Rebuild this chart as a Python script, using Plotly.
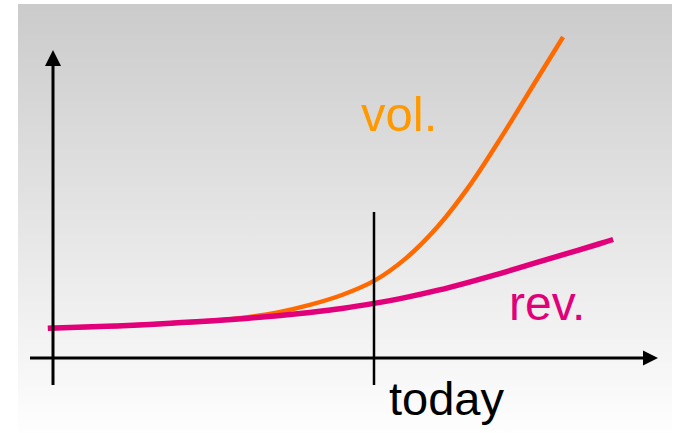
import plotly.graph_objects as go

# ---- data (time units: 0 = y-axis, 10 = today; value units above the x-axis) ----
rev_t = [-0.16, 1, 2, 3, 4, 5, 6, 7, 8, 9, 10, 11, 12, 13, 14, 15, 16, 17, 17.45]
rev_v = [0.99, 1.03, 1.07, 1.12, 1.18, 1.24, 1.32, 1.41, 1.52, 1.65, 1.82, 2.02, 2.26, 2.54, 2.84,
         3.16, 3.48, 3.80, 3.95]

vol_t = [-0.16, 1, 2, 3, 4, 5, 6, 7, 8, 9, 10, 11, 12, 13, 14, 15, 15.89]
vol_v = [0.99, 1.03, 1.07, 1.12, 1.18, 1.24, 1.35, 1.52, 1.77, 2.10, 2.57, 3.33, 4.40, 5.78, 7.42,
         9.16, 10.70]

today_t = 10.0
labels = {"vol": "vol.", "rev": "rev.", "today": "today"}

# ---- layout constants ----
W, H = 677, 433
PX_PER_T = 32.1
PX_PER_V = 30.0
X0_PX, Y0_PX = 53, 358
x_range = [-X0_PX / PX_PER_T, (W - X0_PX) / PX_PER_T]
y_range = [(Y0_PX - H) / PX_PER_V, Y0_PX / PX_PER_V]


def tx(px):
    return (px - X0_PX) / PX_PER_T


def vy(py):
    return (Y0_PX - py) / PX_PER_V


ORANGE = "#ff6a00"
ORANGE_TXT = "#ff9900"
MAGENTA = "#e2007a"

fig = go.Figure()

# gradient background panel
bx0, bx1, by0, by1 = tx(18), tx(672), vy(433), vy(4)
fig.add_trace(go.Scatter(
    x=[bx0, bx1, bx1, bx0, bx0], y=[by0, by0, by1, by1, by0],
    mode="lines", line=dict(width=0), fill="toself",
    fillgradient=dict(type="vertical", colorscale=[[0, "#fefefe"], [1, "#cbcbcb"]],
                      start=by0, stop=by1),
    hoverinfo="skip", showlegend=False))

fig.add_trace(go.Scatter(x=vol_t, y=vol_v, mode="lines",
                         line=dict(color=ORANGE, width=4.5, shape="spline", smoothing=1.0),
                         hoverinfo="skip", showlegend=False))
fig.add_trace(go.Scatter(x=rev_t, y=rev_v, mode="lines",
                         line=dict(color=MAGENTA, width=5.5, shape="spline", smoothing=1.0),
                         hoverinfo="skip", showlegend=False))

shapes = []
# y axis
shapes.append(dict(type="line", x0=0, x1=0, y0=vy(385), y1=vy(64), line=dict(color="black", width=3)))
shapes.append(dict(type="path",
                   path=f"M {tx(45)} {vy(66)} L {tx(61)} {vy(66)} L {tx(53)} {vy(50)} Z",
                   fillcolor="black", line=dict(width=0)))
# x axis
shapes.append(dict(type="line", x0=tx(30), x1=tx(645), y0=0, y1=0, line=dict(color="black", width=3)))
shapes.append(dict(type="path",
                   path=f"M {tx(643)} {vy(350.5)} L {tx(643)} {vy(365.5)} L {tx(658)} {vy(358)} Z",
                   fillcolor="black", line=dict(width=0)))
# today line
shapes.append(dict(type="line", x0=today_t, x1=today_t, y0=vy(385), y1=vy(212),
                   line=dict(color="black", width=2.5)))

sans = "Liberation Sans, Arial, sans-serif"
annotations = [
    dict(x=tx(359), y=vy(142.6), text=labels["vol"], showarrow=False, xanchor="left", yanchor="bottom",
         font=dict(family=sans, size=49, color=ORANGE_TXT)),
    dict(x=tx(507), y=vy(331.8), text=labels["rev"], showarrow=False, xanchor="left", yanchor="bottom",
         font=dict(family=sans, size=48, color=MAGENTA)),
    dict(x=tx(387), y=vy(427), text=labels["today"], showarrow=False, xanchor="left", yanchor="bottom",
         font=dict(family=sans, size=47, color="black")),
]

fig.update_layout(
    width=W, height=H, margin=dict(l=0, r=0, t=0, b=0),
    paper_bgcolor="white", plot_bgcolor="white",
    xaxis=dict(range=x_range, visible=False, fixedrange=True),
    yaxis=dict(range=y_range, visible=False, fixedrange=True),
    shapes=shapes, annotations=annotations, showlegend=False,
)

fig.write_html("out.html", config={"displayModeBar": False},
               post_script="document.body.style.margin='0px';document.body.style.overflow='hidden';")
